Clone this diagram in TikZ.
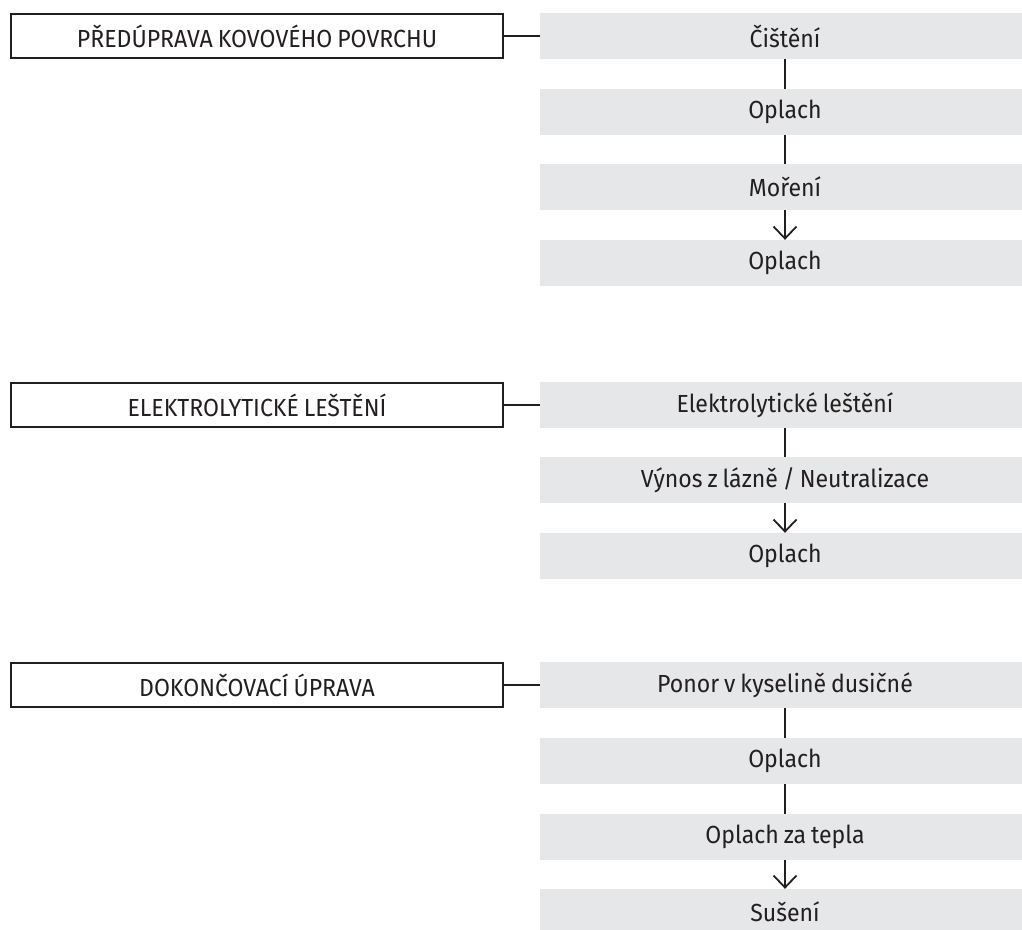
\documentclass[tikz,border=0pt]{standalone}
\usepackage{fontspec}
\setmainfont{Fira Sans}[FakeStretch=0.935, WordSpace=0.8]
\usetikzlibrary{arrows.meta}
\definecolor{boxgrey}{HTML}{E6E7E8}
\definecolor{ink}{HTML}{231F20}
\begin{document}
\begin{tikzpicture}[x=1pt,y=-1pt,
  every node/.style={font=\fontsize{24.7}{28}\selectfont, text=ink},
  stage/.style={draw=ink, line width=2pt, fill=white, minimum width=492pt, minimum height=44pt, inner sep=0pt, anchor=center},
  stepbox/.style={fill=boxgrey, minimum width=490pt, minimum height=46pt, inner sep=0pt, anchor=center},
  link/.style={draw=ink, line width=1.8pt},
  arr/.style={link, -{Straight Barb[length=12pt, width=23pt, line width=1.8pt]}}
]
\useasboundingbox (0,0) rectangle (1022,929);

% Group 1
\node[stage] (L1) at (257,36) {PŘEDÚPRAVA KOVOVÉHO POVRCHU};
\node[stepbox] (A1) at (785,36) {Čištění};
\node[stepbox] (A2) at (785,112) {Oplach};
\node[stepbox] (A3) at (785,187) {Moření};
\node[stepbox] (A4) at (785,263) {Oplach};
\draw[link] (L1.east) -- (A1.west);
\draw[link] (A1.south) -- (A2.north);
\draw[link] (A2.south) -- (A3.north);
\draw[arr] (A3.south) -- (A4.north);

% Group 2
\node[stage] (L2) at (257,405) {ELEKTROLYTICKÉ LEŠTĚNÍ};
\node[stepbox] (B1) at (785,405) {Elektrolytické leštění};
\node[stepbox] (B2) at (785,480) {Výnos z lázně / Neutralizace};
\node[stepbox] (B3) at (785,556) {Oplach};
\draw[link] (L2.east) -- (B1.west);
\draw[link] (B1.south) -- (B2.north);
\draw[arr] (B2.south) -- (B3.north);

% Group 3
\node[stage] (L3) at (257,685) {DOKONČOVACÍ ÚPRAVA};
\node[stepbox] (C1) at (785,685) {Ponor v kyselině dusičné};
\node[stepbox] (C2) at (785,761) {Oplach};
\node[stepbox] (C3) at (785,837) {Oplach za tepla};
\node[stepbox] (C4) at (785,912) {Sušení};
\draw[link] (L3.east) -- (C1.west);
\draw[link] (C1.south) -- (C2.north);
\draw[link] (C2.south) -- (C3.north);
\draw[arr] (C3.south) -- (C4.north);
\end{tikzpicture}
\end{document}
